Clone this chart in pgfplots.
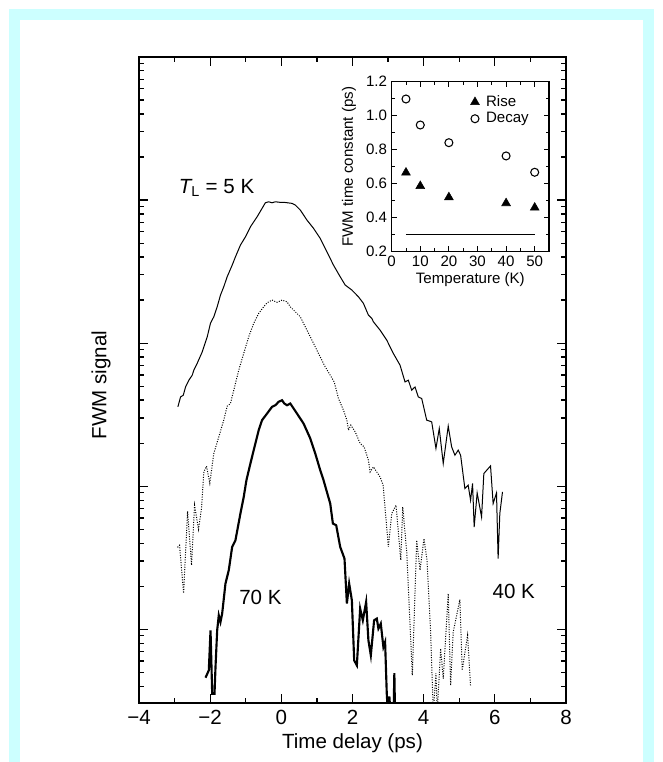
\documentclass[border=0pt]{standalone}
\usepackage{fontspec}
\setmainfont{Liberation Sans}
\usepackage{pgfplots}
\pgfplotsset{compat=1.18}
\definecolor{framecyan}{RGB}{204,255,255}

% 5 K curve (log10 of the signal, peak = 0)
\pgfplotstableread{
x y
-2.907 -1.445
-2.832 -1.376
-2.756 -1.364
-2.691 -1.306
-2.599 -1.259
-2.504 -1.224
-2.459 -1.189
-2.363 -1.140
-2.223 -1.061
-2.083 -0.956
-1.990 -0.860
-1.898 -0.816
-1.803 -0.746
-1.710 -0.664
-1.618 -0.606
-1.522 -0.536
-1.382 -0.455
-1.290 -0.397
-1.150 -0.315
-1.009 -0.257
-0.869 -0.187
-0.681 -0.117
-0.541 -0.058
-0.449 -0.019
-0.356 -0.012
-0.261 -0.019
-0.168 -0.012
-0.028 -0.016
0.112 -0.017
0.300 -0.023
0.392 -0.035
0.533 -0.070
0.720 -0.140
0.906 -0.198
1.093 -0.268
1.281 -0.362
1.466 -0.455
1.654 -0.536
1.794 -0.594
1.982 -0.629
2.167 -0.676
2.307 -0.722
2.447 -0.804
2.543 -0.827
2.588 -0.851
2.775 -0.909
2.963 -0.979
3.148 -1.072
3.336 -1.154
3.476 -1.271
3.569 -1.259
3.664 -1.329
3.757 -1.306
3.849 -1.376
3.945 -1.387
4.085 -1.538
4.225 -1.550
4.345 -1.736
4.438 -1.597
4.550 -1.841
4.690 -1.580
4.786 -1.725
4.878 -1.783
4.971 -1.748
5.038 -1.783
5.158 -2.016
5.251 -1.993
5.318 -2.098
5.374 -1.981
5.419 -2.285
5.503 -2.047
5.627 -2.215
5.691 -1.911
5.879 -1.858
5.952 -2.121
6.047 -2.047
6.092 -2.506
6.140 -2.191
6.215 -2.040
}\tfive

% 40 K curve
\pgfplotstableread{
x y
-2.916 -2.427
-2.860 -2.413
-2.747 -2.748
-2.635 -2.175
-2.523 -2.552
-2.439 -2.133
-2.327 -2.301
-2.243 -2.154
-2.178 -1.900
-2.103 -1.860
-2.010 -1.979
-1.898 -1.771
-1.758 -1.655
-1.618 -1.538
-1.522 -1.441
-1.430 -1.422
-1.337 -1.329
-1.197 -1.189
-1.057 -1.072
-0.917 -0.956
-0.777 -0.862
-0.636 -0.792
-0.496 -0.746
-0.401 -0.718
-0.261 -0.699
-0.121 -0.715
0.020 -0.699
0.160 -0.711
0.252 -0.746
0.345 -0.769
0.533 -0.816
0.673 -0.886
0.813 -0.956
0.953 -1.026
1.093 -1.096
1.234 -1.166
1.374 -1.224
1.486 -1.271
1.606 -1.387
1.747 -1.469
1.842 -1.538
1.887 -1.608
1.954 -1.573
2.075 -1.620
2.215 -1.701
2.327 -1.725
2.447 -1.818
2.495 -1.900
2.588 -1.865
2.775 -1.935
2.860 -1.993
3.008 -2.424
3.103 -2.191
3.224 -2.133
3.356 -2.517
3.412 -2.145
3.524 -2.459
3.681 -3.322
3.804 -2.378
3.897 -2.587
4.009 -2.366
4.093 -2.517
4.197 -3.030
4.270 -3.580
4.345 -3.308
4.382 -3.580
4.477 -3.135
4.550 -3.345
4.690 -2.750
4.757 -3.392
4.830 -3.019
5.018 -2.792
5.083 -3.287
5.234 -3.042
5.318 -3.399
}\tforty

% 70 K curve
\pgfplotstableread{
x y
-2.131 -3.338
-2.038 -3.287
-1.990 -3.007
-1.943 -3.450
-1.878 -3.450
-1.850 -3.264
-1.803 -3.007
-1.758 -2.902
-1.710 -2.949
-1.663 -2.890
-1.570 -2.680
-1.477 -2.587
-1.382 -2.424
-1.290 -2.378
-1.150 -2.191
-1.057 -2.075
-0.981 -1.958
-0.869 -1.841
-0.729 -1.701
-0.636 -1.608
-0.541 -1.538
-0.401 -1.492
-0.261 -1.445
-0.168 -1.434
-0.076 -1.410
0.020 -1.399
0.084 -1.422
0.160 -1.434
0.252 -1.422
0.440 -1.492
0.625 -1.562
0.813 -1.666
0.953 -1.771
1.093 -1.888
1.186 -1.958
1.374 -2.121
1.449 -2.261
1.542 -2.273
1.654 -2.424
1.775 -2.506
1.842 -2.820
1.906 -2.680
1.982 -2.797
2.047 -3.217
2.122 -3.252
2.215 -2.855
2.290 -2.937
2.383 -2.809
2.447 -3.077
2.515 -3.182
2.607 -2.937
2.683 -2.925
2.728 -2.995
2.795 -2.960
2.868 -3.124
2.916 -3.089
2.963 -3.450
3.000 -3.600
3.036 -3.469
3.070 -3.600
3.154 -3.600
3.176 -3.306
3.196 -3.600
}\tseventy

\begin{document}
\begin{tikzpicture}
\useasboundingbox (-104.25pt,-44.25pt) rectangle (392.25pt,527.25pt);
\fill[framecyan] (-97.5pt,-44.25pt) rectangle (386.25pt,520.5pt);
\fill[white] (-89.25pt,-44.25pt) rectangle (378pt,512.25pt);

\begin{axis}[
    at={(0pt,0pt)}, anchor=south west,
    scale only axis,
    width=320.25pt, height=484.5pt,
    xmin=-4, xmax=8,
    ymin=-3.515, ymax=1,
    xtick={-4,-2,0,2,4,6,8},
    xticklabels={−4,−2,0,2,4,6,8},
    minor xtick={-3,-1,1,3,5,7},
    ytick={-3,-2,-1,0,1},
    yticklabels={},
    minor ytick={-3.398,-3.301,-3.222,-3.155,-3.097,-3.046,
                 -2.699,-2.523,-2.398,-2.301,-2.222,-2.155,-2.097,-2.046,
                 -1.699,-1.523,-1.398,-1.301,-1.222,-1.155,-1.097,-1.046,
                 -0.699,-0.523,-0.398,-0.301,-0.222,-0.155,-0.097,-0.046,
                 0.301,0.477,0.602,0.699,0.778,0.845,0.903,0.954},
    tick align=inside,
    major tick length=6.75pt,
    minor tick length=3.75pt,
    tick style={black, line width=0.9pt},
    axis line style={line width=1.2pt},
    font=\fontsize{15.4}{18}\selectfont,
    xticklabel style={yshift=-2pt},
    xlabel={Time delay (ps)},
    ylabel={FWM signal},
    xlabel style={at={(axis description cs:0.5,-0.062)}, anchor=center},
    ylabel style={at={(axis description cs:-0.089,0.492)}, anchor=center},
]
\addplot[black, line width=0.75pt] table[x=x, y=y] {\tfive};
\addplot[black, line width=0.75pt, dash pattern=on 0.75pt off 1.1pt] table[x=x, y=y] {\tforty};
\addplot[black, line width=1.6pt] table[x=x, y=y] {\tseventy};
\node at (axis cs:-1.822,0.084) {{\itshape T}\textsubscript{L} = 5 K};
\node at (axis cs:-0.589,-2.776) {70 K};
\node at (axis cs:6.532,-2.734) {40 K};
\end{axis}

\begin{axis}[
    at={(189.5pt,338.5pt)}, anchor=south west,
    scale only axis,
    width=118pt, height=127.5pt,
    xmin=0, xmax=55,
    ymin=0.2, ymax=1.2,
    xtick={0,10,20,30,40,50},
    minor xtick={5,15,25,35,45,55},
    ytick={0.2,0.4,0.6,0.8,1.0,1.2},
    minor ytick={0.3,0.5,0.7,0.9,1.1},
    yticklabel style={/pgf/number format/fixed, /pgf/number format/fixed zerofill, /pgf/number format/precision=1},
    /pgf/number format/assume math mode=true,
    tick align=inside,
    major tick length=4pt,
    minor tick length=2.5pt,
    tick style={black, line width=0.7pt},
    axis line style={line width=0.9pt},
    axis background/.style={fill=white},
    font=\fontsize{11.3}{13}\selectfont,
    xlabel={Temperature (K)},
    ylabel={FWM time constant (ps)},
    xlabel style={at={(axis description cs:0.5,-0.166)}, anchor=center},
    ylabel style={at={(axis description cs:-0.271,0.5)}, anchor=center},
    legend style={at={(axis description cs:0.5,0.935)}, anchor=north west,
        draw=none, fill=none, inner sep=0pt, row sep=-1pt,
        font=\fontsize{11.3}{13}\selectfont},
    legend cell align=left,
]
\addplot[only marks, mark=triangle*, mark size=3.8pt, black] coordinates {
    (5,0.665) (10,0.586) (20,0.520) (40,0.485) (50,0.459)
};
\addplot[only marks, mark=o, mark size=3pt, black, line width=0.8pt] coordinates {
    (5,1.098) (10,0.945) (20,0.841) (40,0.763) (50,0.667)
};
\addplot[black, line width=0.8pt, forget plot] coordinates {(5,0.3) (50,0.3)};
\legend{\hspace{3pt}Rise, \hspace{3pt}Decay}
\end{axis}
\end{tikzpicture}
\end{document}
